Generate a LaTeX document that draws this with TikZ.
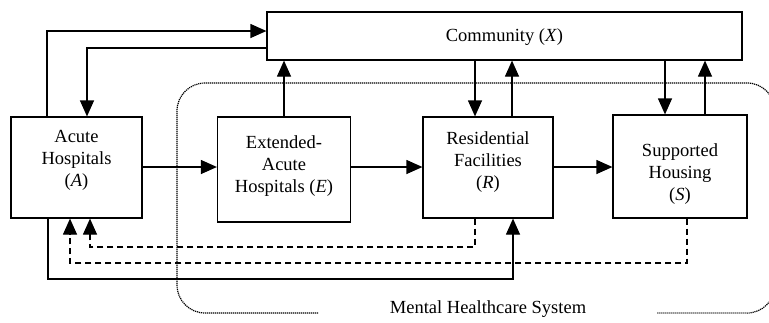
\documentclass[tikz,border=0pt]{standalone}
\usepackage{fontspec}
\setmainfont{Liberation Serif}
\usetikzlibrary{arrows.meta}
\begin{document}
\begin{tikzpicture}[x=1pt,y=-1pt,
  box/.style={draw,line width=1.2pt,inner sep=0pt},
  lbl/.style={align=center,font=\fontsize{18.5}{22}\selectfont,inner sep=0pt},
  flow/.style={line width=1.2pt,-{Triangle[length=16pt,width=14pt]}},
  back/.style={flow,dash pattern=on 6.5pt off 3.5pt},
  sys/.style={line width=1.2pt,dash pattern=on 1.2pt off 0.8pt}]
\useasboundingbox (0,0) rectangle (769,322);
\fill[white] (0,0) rectangle (769,322);
% system boundary
\draw[sys,rounded corners=28pt] (318,313) -- (177,313) -- (177,83) -- (775,83) -- (775,313) -- (657,313);
\node[lbl] (sysl) at (488,309) {Mental Healthcare System};
% boxes
\node[box,minimum width=475pt,minimum height=48pt] (X) at (504.5,36) {};
\node[box,minimum width=131pt,minimum height=101pt] (A) at (76.5,167.5) {};
\node[box,minimum width=133pt,minimum height=105pt] (E) at (284,169.5) {};
\node[box,minimum width=130pt,minimum height=101pt] (R) at (488,167.5) {};
\node[box,minimum width=134pt,minimum height=103pt] (S) at (680,166.5) {};
% labels
\node[lbl] (tX) at (504.5,37) {Community (\textit{X})};
\node[lbl] (tA) at (76.5,160) {Acute\\Hospitals\\(\textit{A})};
\node[lbl] (tE) at (284,166) {Extended-\\Acute\\Hospitals (\textit{E})};
\node[lbl] (tR) at (488,162) {Residential\\Facilities\\(\textit{R})};
\node[lbl] (tS) at (680,174) {Supported\\Housing\\(\textit{S})};
% connectors
\draw[flow] (A.north -| 47,0) |- (X.west |- 0,31);
\draw[flow] (X.west |- 0,48) -| (A.north -| 87,0);
\draw[flow] (A.east |- 0,167) -- (E.west |- 0,167);
\draw[flow] (E.north) -- (E.north |- X.south);
\draw[flow] (E.east |- 0,167) -- (R.west |- 0,167);
\draw[flow] (X.south -| 475,0) -- (R.north -| 475,0);
\draw[flow] (R.north -| 512,0) -- (X.south -| 512,0);
\draw[flow] (R.east |- 0,167) -- (S.west |- 0,167);
\draw[flow] (X.south -| 665,0) -- (S.north -| 665,0);
\draw[flow] (S.north -| 705,0) -- (X.south -| 705,0);
\draw[back] (R.south -| 475,0) -- (475,247) -| (A.south -| 90,0);
\draw[back] (S.south -| 687,0) -- (687,263) -| (A.south -| 70,0);
\draw[flow] (A.south -| 48,0) -- (48,279) -| (R.south -| 513,0);
\end{tikzpicture}
\end{document}
